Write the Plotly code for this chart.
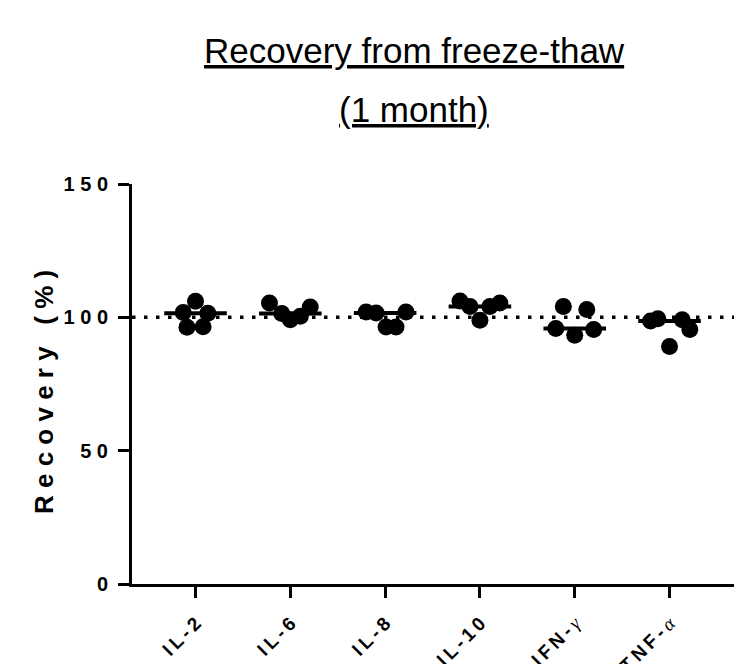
import plotly.graph_objects as go
import numpy as np

# ---------------- data ----------------
categories = ["IL-2", "IL-6", "IL-8", "IL-10", "IFN-γ", "TNF-α"]
il2 = [106.0, 101.8, 101.5, 96.3, 96.5]
il6 = [105.4, 101.4, 99.1, 100.4, 103.9]
il8 = [102.0, 101.6, 96.4, 96.4, 102.0]
il10 = [106.1, 104.1, 98.9, 104.1, 105.4]
ifng = [104.1, 102.9, 95.8, 93.3, 95.4]
tnfa = [98.6, 99.5, 99.1, 95.4, 89.1]
series = [il2, il6, il8, il10, ifng, tnfa]
# horizontal spread of the dots inside each column (category units)
spread = [
    [0.0, -0.13, 0.13, -0.09, 0.08],
    [-0.22, -0.09, 0.0, 0.105, 0.21],
    [-0.2, -0.095, 0.01, 0.115, 0.22],
    [-0.21, -0.105, 0.0, 0.105, 0.21],
    [-0.12, 0.127, -0.2, 0.0, 0.2],
    [-0.2, -0.123, 0.134, 0.214, 0.0],
]
y_ticks = [0, 50, 100, 150]
reference_level = 100
title_line1 = "Recovery from freeze-thaw"
title_line2 = "(1 month)"
y_title = "Recovery (%)"

THIN = "\u2009"
PUNCT = "\u2008"
FONT = "Arial, Liberation Sans, sans-serif"


def spaced(s, sep=THIN):
    return sep.join(list(s))


def cat_label(c):
    greek = "γα"
    if c[-1] in greek:
        return spaced(c[:-1]) + THIN + (
            '<span style="font-family:Liberation Serif;font-weight:normal;font-style:italic">'
            + c[-1] + "</span>")
    return spaced(c)


fig = go.Figure()

for i, vals in enumerate(series):
    xs = [i + d for d in spread[i]]
    fig.add_trace(go.Scatter(
        x=xs, y=vals, mode="markers",
        marker=dict(size=17, color="black", line=dict(width=0)),
        showlegend=False, hoverinfo="y"))
    med = float(np.median(vals))
    fig.add_trace(go.Scatter(
        x=[i - 0.33, i + 0.33], y=[med, med], mode="lines",
        line=dict(color="black", width=4),
        showlegend=False, hoverinfo="skip"))

fig.add_shape(type="line", xref="paper", x0=0, x1=1, yref="y",
              y0=reference_level, y1=reference_level,
              line=dict(color="black", width=3.5, dash="3.5px,8.5px"),
              layer="below")

fig.update_xaxes(
    range=[-0.67, 5.68], showgrid=False, zeroline=False,
    showline=True, linewidth=3, linecolor="black",
    ticks="outside", ticklen=11, tickwidth=3, tickcolor="black",
    tickmode="array", tickvals=list(range(len(categories))),
    ticktext=[cat_label(c) for c in categories],
    tickangle=-45, ticklabelstandoff=7,
    tickfont=dict(family=FONT, size=19, color="black", weight="bold"),
    automargin=False)

fig.update_yaxes(
    range=[0, 150], showgrid=False, zeroline=False,
    showline=True, linewidth=3, linecolor="black",
    ticks="outside", ticklen=11, tickwidth=3, tickcolor="black",
    tickmode="array", tickvals=y_ticks,
    ticktext=[spaced(str(v), PUNCT) for v in y_ticks],
    ticklabelstandoff=6,
    tickfont=dict(family=FONT, size=20, color="black", weight="bold"),
    automargin=False)

fig.add_annotation(
    text=spaced(y_title, PUNCT), textangle=-90,
    xref="paper", yref="paper", x=(44 - 132) / 602, y=(584 - 392) / 400,
    xanchor="center", yanchor="middle", showarrow=False,
    font=dict(family=FONT, size=26, color="black", weight="bold"))

fig.add_annotation(
    text="<u>" + title_line1 + "</u>", xref="paper", yref="paper",
    x=0.469, y=1.335, xanchor="center", yanchor="middle", showarrow=False,
    font=dict(family=FONT, size=35, color="black"))
fig.add_annotation(
    text="<u>" + title_line2 + "</u>", xref="paper", yref="paper",
    x=0.469, y=1.185, xanchor="center", yanchor="middle", showarrow=False,
    font=dict(family=FONT, size=35, color="black"))

fig.update_layout(
    width=734, height=664,
    margin=dict(l=132, r=0, t=184, b=80, pad=0),
    paper_bgcolor="white", plot_bgcolor="white",
    showlegend=False)

fig.write_html("out.html")
